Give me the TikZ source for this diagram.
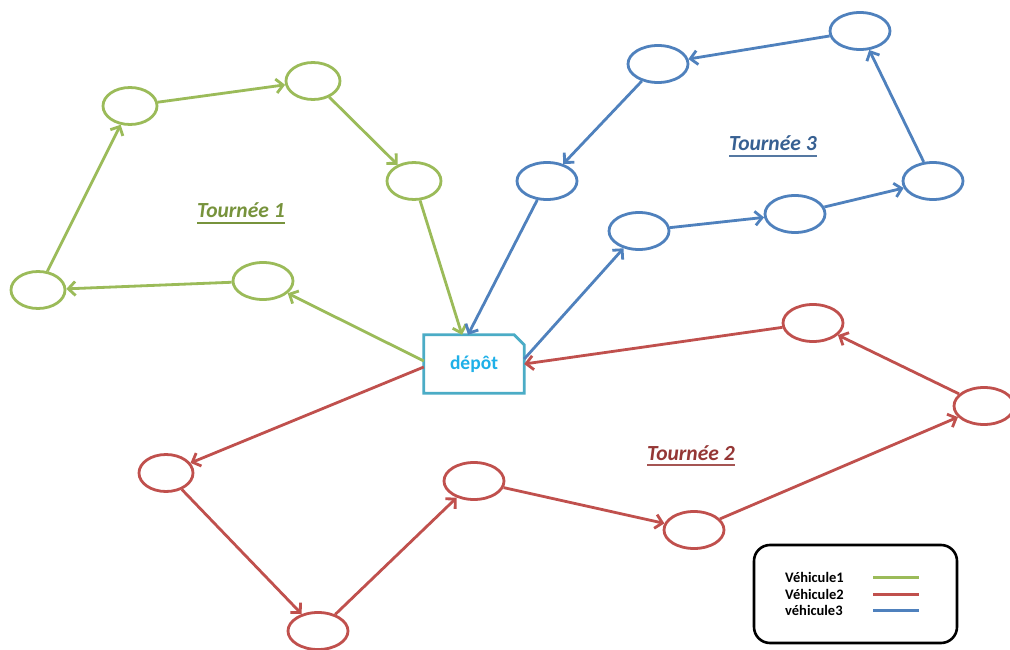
\documentclass[tikz,border=0pt]{standalone}
\usepackage{fontspec}
\setmainfont{Carlito}
\usetikzlibrary{arrows.meta,shapes.geometric}

\definecolor{vgreen}{HTML}{9BBB59}
\definecolor{vred}{HTML}{C0504D}
\definecolor{vblue}{HTML}{4F81BD}
\definecolor{tgreen}{HTML}{77933C}
\definecolor{tred}{HTML}{953735}
\definecolor{tblue}{HTML}{376092}
\definecolor{depline}{HTML}{4BACC6}
\definecolor{deptext}{HTML}{1FB0E8}

\tikzset{
  client/.style={ellipse, draw, line width=2.8pt, inner sep=0pt,
                 minimum width=60pt, minimum height=37pt},
  route/.style={line width=2.8pt, -{Straight Barb[length=7pt,width=14pt]}},
  tourlabel/.style={font=\fontsize{21.5}{24}\selectfont\bfseries\itshape, inner sep=0pt, anchor=base west},
  legtext/.style={font=\fontsize{14.5}{17}\selectfont\bfseries, inner sep=0pt, anchor=base west},
  legline/.style={line width=3pt}
}

\begin{document}
\begin{tikzpicture}[x=1pt,y=-1pt]
\clip (0,0) rectangle (1010,650);
\fill[white] (0,0) rectangle (1010,650);

% depot (yshift works in page coordinates, so negative values move down)
\node[minimum width=100pt, minimum height=58pt, inner sep=0pt,
      font=\fontsize{19.5}{22}\selectfont\bfseries, text=deptext] (dep) at (474,364) {dépôt};
\draw[depline, line width=2.8pt, line join=miter]
  (dep.south west) -- (dep.north west) -- ([xshift=-10pt]dep.north east)
  -- ([yshift=-10pt]dep.north east) -- (dep.south east) -- cycle;

% vehicle 1
\begin{scope}[vgreen]
\node[client, minimum width=54pt] (g1) at (130,106) {};
\node[client, minimum width=54pt] (g2) at (313,81) {};
\node[client, minimum width=54pt] (g3) at (414,181) {};
\node[client] (g4) at (263,281) {};
\node[client, minimum width=54pt] (g5) at (38,290) {};
\draw[route] (g5) -- (g1);
\draw[route] (g1) -- (g2);
\draw[route] (g2) -- (g3);
\draw[route] (g3) -- ([xshift=-12pt]dep.north);
\draw[route] ([yshift=3pt]dep.west) -- (g4);
\draw[route] (g4) -- (g5);
\end{scope}

% vehicle 3
\begin{scope}[vblue]
\node[client] (b1) at (860,31) {};
\node[client] (b2) at (658,64) {};
\node[client] (b3) at (547,181) {};
\node[client] (b4) at (639,231) {};
\node[client] (b5) at (795,214) {};
\node[client] (b6) at (933,181) {};
\draw[route] (b3) -- ([xshift=-6pt]dep.north);
\draw[route] ([yshift=5pt]dep.east) -- (b4);
\draw[route] (b4) -- (b5);
\draw[route] (b5) -- (b6);
\draw[route] (b6) -- (b1);
\draw[route] (b1) -- (b2);
\draw[route] (b2) -- (b3);
\end{scope}

% vehicle 2
\begin{scope}[vred]
\node[client] (r1) at (813,323) {};
\node[client] (r2) at (984,406) {};
\node[client] (r3) at (694,530) {};
\node[client] (r4) at (474,481) {};
\node[client] (r5) at (318,631) {};
\node[client, minimum width=54pt] (r6) at (166,473) {};
\draw[route] (r1) -- (dep.east);
\draw[route] (r2) -- (r1);
\draw[route] (r3) -- (r2);
\draw[route] (r4) -- (r3);
\draw[route] (r5) -- (r4);
\draw[route] (r6) -- (r5);
\draw[route] ([yshift=-3pt]dep.west) -- (r6);
\end{scope}

% tour labels with underlines
\node[tourlabel, text=tgreen] (t1) at (197,218) {Tournée 1};
\draw[tgreen, line width=2pt] ([yshift=-5pt]t1.base west) -- ([yshift=-5pt]t1.base east);
\node[tourlabel, text=tred] (t2) at (647,460) {Tournée 2};
\draw[tred!85, line width=2pt] ([yshift=-5pt]t2.base west) -- ([yshift=-5pt]t2.base east);
\node[tourlabel, text=tblue] (t3) at (729,151) {Tournée 3};
\draw[tblue!85, line width=2pt] ([yshift=-5pt]t3.base west) -- ([yshift=-5pt]t3.base east);

% legend
\draw[black, line width=2.6pt, rounded corners=16pt] (754,545) rectangle (957,643);
\node[legtext] (l1) at (785,582) {Véhicule1};
\node[legtext] (l2) at (785,599) {Véhicule2};
\node[legtext] (l3) at (785,615) {véhicule3};
\coordinate (k1a) at (873,577); \coordinate (k1b) at (919,577);
\coordinate (k2a) at (873,594); \coordinate (k2b) at (919,594);
\coordinate (k3a) at (873,610); \coordinate (k3b) at (919,610);
\draw[legline, vgreen] (k1a) -- (k1b);
\draw[legline, vred] (k2a) -- (k2b);
\draw[legline, vblue] (k3a) -- (k3b);
\end{tikzpicture}
\end{document}
